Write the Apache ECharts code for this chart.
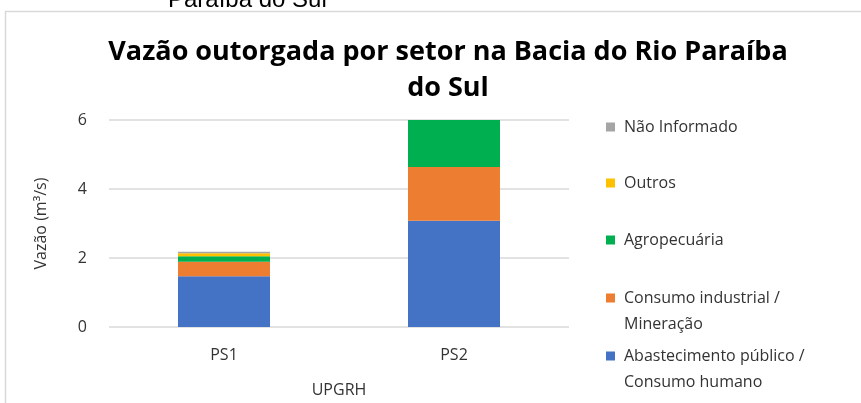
<!DOCTYPE html>
<html>
<head>
<meta charset="utf-8">
<script src="https://cdn.jsdelivr.net/npm/echarts@6/dist/echarts.min.js"></script>
<style>
  html, body { margin: 0; padding: 0; background: #fff; }
  #chart { width: 861px; height: 403px; }
</style>
</head>
<body>
<div id="chart"></div>
<script>
// UPGRH categories
var categories = ['PS1', 'PS2'];
// series, bottom of stack first
var seriesNames = ['Abastecimento público /\nConsumo humano', 'Consumo industrial /\nMineração', 'Agropecuária', 'Outros', 'Não Informado'];
var abastecimento = [1.47, 3.08];
var industrial = [0.42, 1.56];
var agropecuaria = [0.16, 1.41];
var outros = [0.09, 0];
var naoInformado = [0.04, 0];
var colors = ['#4472C4', '#ED7D31', '#00B050', '#FFC000', '#A5A5A5'];
var yTicks = [0, 2, 4, 6];

var values = [abastecimento, industrial, agropecuaria, outros, naoInformado];
var legendTops = [343, 285, 227, 170, 114]; // one legend per item
var twoLine = [true, true, false, false, false];

var legends = seriesNames.map(function (name, i) {
  return {
    data: [name],
    orient: 'vertical',
    left: 606,
    top: legendTops[i],
    padding: 0,
    itemGap: 0,
    itemWidth: 9,
    // two-line items: square sits at the top of a taller icon box
    itemHeight: twoLine[i] ? 35 : 9,
    icon: twoLine[i] ? 'path://M0,0H9V9H0Z M0,35H0.01V35.01Z' : 'rect',
    selectedMode: false,
    textStyle: {
      fontFamily: 'Open Sans',
      fontSize: 16,
      color: '#333',
      lineHeight: 26,
      padding: [0, 0, 0, 4]
    }
  };
});

var chart = echarts.init(document.getElementById('chart'));
chart.setOption({
  animation: false,
  color: colors,
  title: [{
    text: 'Vazão outorgada por setor na Bacia do Rio Paraíba\ndo Sul',
    left: 443,
    textAlign: 'center',
    top: 29,
    textStyle: { fontFamily: 'Open Sans', fontWeight: 'bold', fontSize: 27, lineHeight: 36, color: '#000' }
  }, {
    text: 'Paraíba do Sul',
    left: 163,
    top: -17,
    textStyle: { fontFamily: 'Liberation Sans', fontWeight: 'normal', fontSize: 24, color: '#000' }
  }],
  graphic: [{
    type: 'rect',
    shape: { x: 5.5, y: 11.5, width: 900, height: 500 },
    style: { fill: '#fff', stroke: '#d9d9d9', lineWidth: 1.5 },
    silent: true
  }],
  legend: legends,
  grid: { left: 109, right: 292, top: 120, bottom: 75 },
  xAxis: {
    type: 'category',
    data: categories,
    name: 'UPGRH',
    nameLocation: 'middle',
    nameGap: 55,
    nameTextStyle: { fontFamily: 'Open Sans', fontSize: 16, color: '#333' },
    axisLine: { show: false },
    axisTick: { show: false },
    axisLabel: { fontFamily: 'Open Sans', fontSize: 16, color: '#333', margin: 20 }
  },
  yAxis: {
    type: 'value',
    min: yTicks[0],
    max: yTicks[yTicks.length - 1],
    interval: 2,
    name: 'Vazão (m³/s)',
    nameLocation: 'middle',
    nameRotate: 90,
    nameGap: 60,
    nameTextStyle: { fontFamily: 'Open Sans', fontSize: 16, color: '#333' },
    axisLine: { show: false },
    axisTick: { show: false },
    splitLine: { lineStyle: { color: '#d9d9d9', width: 1.5 } },
    axisLabel: { fontFamily: 'Open Sans', fontSize: 16, color: '#333', margin: 22 }
  },
  series: seriesNames.map(function (name, i) {
    return {
      name: name,
      type: 'bar',
      stack: 'total',
      barWidth: '40%',
      data: values[i]
    };
  })
});
</script>
</body>
</html>
